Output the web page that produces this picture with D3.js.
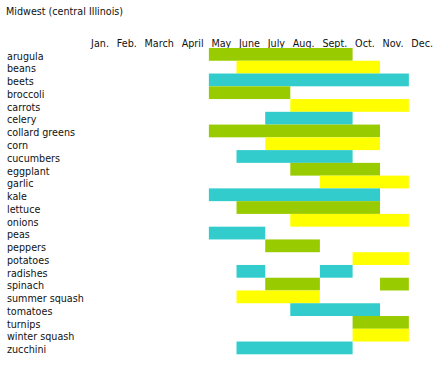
<!DOCTYPE html>
<html>
<head>
<meta charset="utf-8">
<script src="https://cdn.jsdelivr.net/npm/d3@7"></script>
<style>
body { margin: 0; background: #fff; }
text { font-family: "DejaVu Sans", Verdana, sans-serif; font-size: 9.6px; fill: #111; }
</style>
</head>
<body>
<script>
const title = 'Midwest (central Illinois)';
const months = ['Jan.', 'Feb.', 'March', 'April', 'May', 'June', 'July', 'Aug.', 'Sept.', 'Oct.', 'Nov.', 'Dec.'];
const crops = ['arugula', 'beans', 'beets', 'broccoli', 'carrots', 'celery', 'collard greens', 'corn',
	'cucumbers', 'eggplant', 'garlic', 'kale', 'lettuce', 'onions', 'peas', 'peppers', 'potatoes',
	'radishes', 'spinach', 'summer squash', 'tomatoes', 'turnips', 'winter squash', 'zucchini'];
// harvest windows, [first month, last month] per crop
const seasons = [
	[['May', 'Sept.']],
	[['June', 'Oct.']],
	[['May', 'Nov.']],
	[['May', 'July']],
	[['Aug.', 'Nov.']],
	[['July', 'Sept.']],
	[['May', 'Oct.']],
	[['July', 'Oct.']],
	[['June', 'Sept.']],
	[['Aug.', 'Oct.']],
	[['Sept.', 'Nov.']],
	[['May', 'Oct.']],
	[['June', 'Oct.']],
	[['Aug.', 'Nov.']],
	[['May', 'June']],
	[['July', 'Aug.']],
	[['Oct.', 'Nov.']],
	[['June', 'June'], ['Sept.', 'Sept.']],
	[['July', 'Aug.'], ['Nov.', 'Nov.']],
	[['June', 'Aug.']],
	[['Aug.', 'Oct.']],
	[['Oct.', 'Nov.']],
	[['Oct.', 'Nov.']],
	[['June', 'Sept.']]
];
const palette = ['#99cc00', '#ffff00', '#33cccc'];

const width = 433, height = 366;
const cellPad = 7.8;

const svg = d3.select('body').append('svg')
	.attr('width', width)
	.attr('height', height);

svg.append('text')
	.attr('x', 6)
	.attr('y', 15)
	.text(title);

let y = d3.scaleBand().domain(crops).range([48, 354.3]).padding(0);
let color = d3.scaleOrdinal().domain(d3.range(3)).range(palette);

let labels = svg.append('g')
	.attr('class', 'labels')
	.selectAll('text')
	.data(crops)
	.join('text')
	.attr('x', 7)
	.attr('y', d => y(d) + y.bandwidth() / 2)
	.attr('dy', '0.55em')
	.text(d => d);

// columns are sized like table cells: widest text + padding
let labelWidth = d3.max(labels.nodes(), n => n.getComputedTextLength());
let header = svg.append('g')
	.attr('class', 'header')
	.selectAll('text')
	.data(months)
	.join('text')
	.text(d => d);
let edges = [7 + labelWidth + cellPad - 3];
header.nodes().forEach(n => edges.push(edges[edges.length - 1] + n.getComputedTextLength() + cellPad));

let x = d3.scaleLinear().domain(d3.range(months.length + 1)).range(edges);

header
	.attr('x', (d, i) => x(i) + 2.5)
	.attr('y', 47);

let rows = svg.append('g')
	.attr('class', 'bars')
	.selectAll('g')
	.data(crops)
	.join('g');

rows.selectAll('rect')
	.data((d, i) => seasons[i].map(s => ({crop: d, row: i, from: months.indexOf(s[0]), to: months.indexOf(s[1]) + 1})))
	.join('rect')
	.attr('x', d => x(d.from))
	.attr('y', d => y(d.crop))
	.attr('width', d => x(d.to) - x(d.from))
	.attr('height', y.bandwidth())
	.attr('fill', d => color(d.row % 3));
</script>
</body>
</html>
